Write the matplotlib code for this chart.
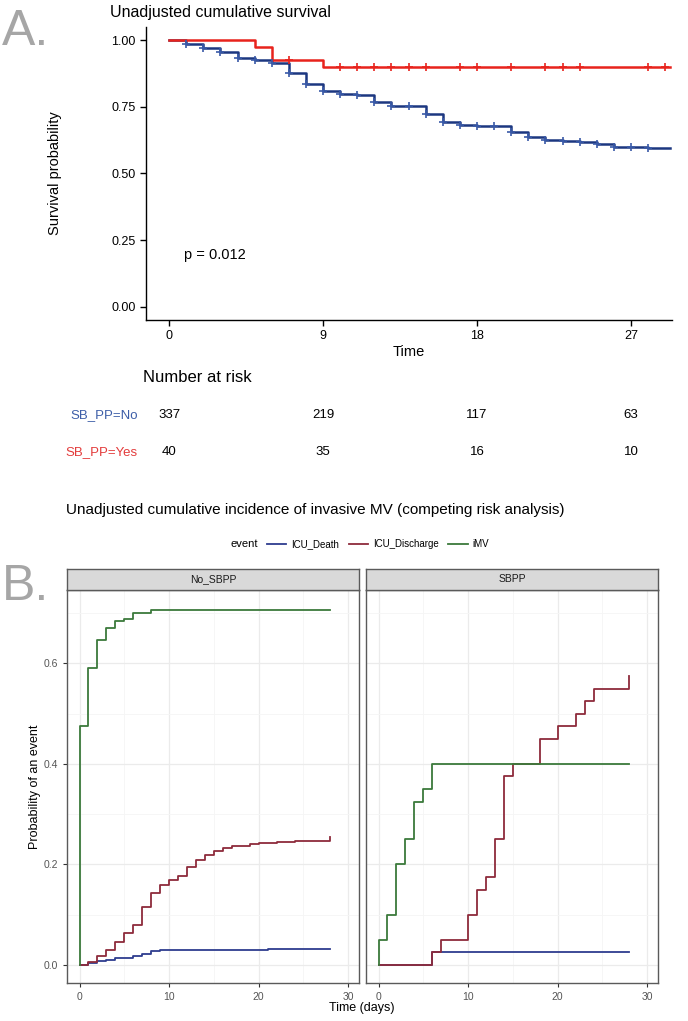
import matplotlib
matplotlib.use('Agg')
import matplotlib.pyplot as plt
import numpy as np
from matplotlib.transforms import blended_transform_factory
from matplotlib.lines import Line2D

plt.rcParams['font.family'] = ['Liberation Sans', 'DejaVu Sans']

# ---------------- Data: panel A (Kaplan-Meier) ----------------
km_no_times = [0, 1, 2, 3, 4, 5, 6, 7, 8, 9, 10, 11, 12, 13, 15, 16, 17, 18, 20, 21, 22, 23, 24, 25, 26, 28]
km_no_surv = [1.0, 0.985, 0.97, 0.955, 0.935, 0.925, 0.915, 0.877, 0.835, 0.81, 0.80, 0.795, 0.77, 0.755,
              0.723, 0.692, 0.683, 0.678, 0.655, 0.636, 0.627, 0.621, 0.617, 0.61, 0.601, 0.594]
km_no_censor = [1, 2, 3, 4, 5, 6, 7, 8, 9, 10, 11, 12, 13, 14, 15, 16, 17, 18, 19, 20, 21, 22, 23, 24,
                25, 26, 27, 28]
km_yes_times = [0, 5, 6, 9]
km_yes_surv = [1.0, 0.975, 0.925, 0.899]
km_yes_censor = [7, 10, 11, 12, 13, 14, 15, 17, 18, 20, 22, 23, 24, 28, 29]
km_end = 29.3

risk_times = [0, 9, 18, 27]
risk_no = [337, 219, 117, 63]
risk_yes = [40, 35, 16, 10]
p_text = "p = 0.012"

# ---------------- Data: panel B (competing risks) ----------------
no_imv_t = [0, 0, 1, 2, 3, 4, 5, 6, 8, 28]
no_imv_y = [0, 0.475, 0.59, 0.647, 0.67, 0.685, 0.689, 0.701, 0.707, 0.707]
no_dis_t = [0, 1, 2, 3, 4, 5, 6, 7, 8, 9, 10, 11, 12, 13, 14, 15, 16, 17, 19, 20, 22, 24, 28, 28]
no_dis_y = [0, 0.005, 0.017, 0.030, 0.045, 0.064, 0.080, 0.115, 0.144, 0.159, 0.168, 0.177, 0.194,
            0.209, 0.219, 0.227, 0.232, 0.237, 0.240, 0.242, 0.244, 0.247, 0.247, 0.254]
no_death_t = [0, 1, 2, 3, 4, 6, 7, 8, 9, 21, 28]
no_death_y = [0, 0.003, 0.008, 0.010, 0.014, 0.018, 0.022, 0.027, 0.029, 0.032, 0.032]

sb_imv_t = [0, 0, 1, 2, 3, 4, 5, 6, 28]
sb_imv_y = [0, 0.05, 0.10, 0.20, 0.25, 0.325, 0.35, 0.40, 0.40]
sb_dis_t = [0, 6, 7, 10, 11, 12, 13, 14, 15, 18, 20, 22, 23, 24, 28, 28]
sb_dis_y = [0, 0.025, 0.05, 0.10, 0.15, 0.175, 0.25, 0.375, 0.40, 0.45, 0.475, 0.50, 0.525, 0.55, 0.55, 0.575]
sb_death_t = [0, 6, 28]
sb_death_y = [0, 0.025, 0.025]

facets = ["No_SBPP", "SBPP"]
events = ["ICU_Death", "ICU_Discharge", "iMV"]

# ---------------- Styling ----------------
W, H = 688, 1021
def fx(px): return px / W
def fy(py): return 1 - py / H

blue_km = '#1c3780'
red_km = '#e8231c'
c_death = '#2e3d8f'
c_dis = '#8e2b3b'
c_imv = '#3b7a3b'

fig = plt.figure(figsize=(6.88, 10.21), dpi=100)

# ================= Panel A =================
axA = fig.add_axes([fx(146), fy(320), (672 - 146) / W, (320 - 27) / H])
tn = km_no_times + [km_end]
sn = km_no_surv + [km_no_surv[-1]]
ty = km_yes_times + [km_end]
sy = km_yes_surv + [km_yes_surv[-1]]
axA.step(tn, sn, where='post', color=blue_km, lw=1.8, zorder=3)
axA.step(ty, sy, where='post', color=red_km, lw=1.8, zorder=4)

def surv_at(times, surv, t):
    idx = np.searchsorted(times, t, side='right') - 1
    return surv[idx]

axA.plot(km_no_censor, [surv_at(km_no_times, km_no_surv, t) for t in km_no_censor],
         ls='none', marker='+', ms=6, mew=1.2, color='#3a5aa8', zorder=5)
axA.plot(km_yes_censor, [surv_at(km_yes_times, km_yes_surv, t) for t in km_yes_censor],
         ls='none', marker='+', ms=6, mew=1.2, color=red_km, zorder=6)

axA.set_xlim(-1.35, 29.4)
axA.set_ylim(-0.05, 1.05)
axA.set_xticks(risk_times)
axA.set_yticks([0, 0.25, 0.5, 0.75, 1.0])
axA.set_yticklabels(['0.00', '0.25', '0.50', '0.75', '1.00'])
axA.tick_params(labelsize=9, length=4, width=1, colors='black')
for s in ['top', 'right']:
    axA.spines[s].set_visible(False)
for s in ['left', 'bottom']:
    axA.spines[s].set_linewidth(1.0)
axA.set_xlabel('Time', fontsize=10.5, labelpad=2)
axA.set_ylabel('Survival probability', fontsize=10.5)
axA.yaxis.set_label_coords((62 - 146) / 526, 0.5)
axA.text(0.85, 0.195, p_text, fontsize=10.5, va='center', ha='left')

fig.text(fx(110), fy(12), 'Unadjusted cumulative survival', fontsize=11.5, va='center', ha='left')
fig.text(fx(2), fy(32), 'A.', fontsize=36, color='#a6a6a6', va='center', ha='left')

# Number at risk table
fig.text(fx(143), fy(377), 'Number at risk', fontsize=12, va='center', ha='left')
trans = blended_transform_factory(axA.transData, fig.transFigure)
for t, a, b in zip(risk_times, risk_no, risk_yes):
    axA.text(t, fy(415), str(a), transform=trans, fontsize=9.5, ha='center', va='center', clip_on=False)
    axA.text(t, fy(452), str(b), transform=trans, fontsize=9.5, ha='center', va='center', clip_on=False)
fig.text(fx(138), fy(415), 'SB_PP=No', fontsize=9.5, color='#3d5ea8', ha='right', va='center')
fig.text(fx(138), fy(452), 'SB_PP=Yes', fontsize=9.5, color='#e33b3b', ha='right', va='center')

# ================= Panel B =================
fig.text(fx(66), fy(510), 'Unadjusted cumulative incidence of invasive MV (competing risk analysis)',
         fontsize=11, va='center', ha='left')
fig.text(fx(2), fy(587), 'B.', fontsize=36, color='#a6a6a6', va='center', ha='left')

panel_left = [67, 366]
panel_w = 292
panel_top, panel_bot = 590, 983
strip_top = 569

series = [
    [(no_death_t, no_death_y), (no_dis_t, no_dis_y), (no_imv_t, no_imv_y)],
    [(sb_death_t, sb_death_y), (sb_dis_t, sb_dis_y), (sb_imv_t, sb_imv_y)],
]
colors = [c_death, c_dis, c_imv]
border = '#5a5a5a'

for i, (pl, name) in enumerate(zip(panel_left, facets)):
    ax = fig.add_axes([fx(pl), fy(panel_bot), panel_w / W, (panel_bot - panel_top) / H])
    for (t, y), c in zip(series[i], colors):
        ax.step(t, y, where='post', color=c, lw=1.3, zorder=3)
    ax.set_xlim(-1.4, 31.2)
    ax.set_ylim(-0.036, 0.746)
    ax.set_xticks([0, 10, 20, 30])
    ax.set_xticks([5, 15, 25], minor=True)
    ax.set_yticks([0.0, 0.2, 0.4, 0.6])
    ax.set_yticks([0.1, 0.3, 0.5, 0.7], minor=True)
    ax.grid(True, which='major', color='#ebebeb', lw=0.9, zorder=0)
    ax.grid(True, which='minor', color='#f5f5f5', lw=0.6, zorder=0)
    ax.set_axisbelow(True)
    ax.tick_params(which='major', labelsize=7.5, length=3, width=0.8, colors='#333333', labelcolor='#555555')
    ax.tick_params(which='minor', length=0)
    if i == 0:
        ax.set_yticklabels(['0.0', '0.2', '0.4', '0.6'])
        ax.set_ylabel('Probability of an event', fontsize=9)
        ax.yaxis.set_label_coords((41 - 67) / panel_w, 0.5)
    else:
        ax.tick_params(axis='y', which='both', left=False, labelleft=False)
    for s in ax.spines.values():
        s.set_color(border)
        s.set_linewidth(1.0)
    # strip
    sax = fig.add_axes([fx(pl), fy(panel_top), panel_w / W, (panel_top - strip_top) / H])
    sax.set_facecolor('#d9d9d9')
    sax.set_xticks([])
    sax.set_yticks([])
    for s in sax.spines.values():
        s.set_color(border)
        s.set_linewidth(1.0)
    sax.text(0.5, 0.5, name, fontsize=7.5, color='#1a1a1a', ha='center', va='center', transform=sax.transAxes)

fig.text(fx(362), fy(1008), 'Time (days)', fontsize=9, ha='center', va='center')

# legend
handles = [Line2D([0], [0], color=c, lw=1.3) for c in colors]
fig.legend(handles, events, loc='center', bbox_to_anchor=(fx(378), fy(544)), ncol=3, frameon=False,
           fontsize=7, handlelength=2.0, handletextpad=0.5, columnspacing=1.0)
fig.text(fx(258), fy(544), 'event', fontsize=8, ha='right', va='center')

fig.savefig('out.png', dpi=100)
